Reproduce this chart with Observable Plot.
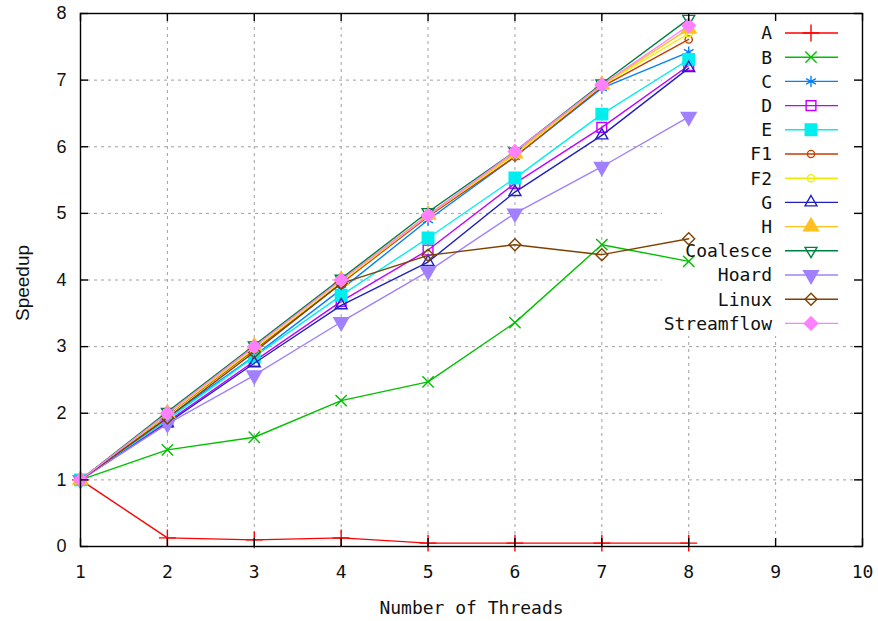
<!DOCTYPE html>
<html><head><meta charset="utf-8">
<script src="https://cdn.jsdelivr.net/npm/d3@7"></script>
<script src="https://cdn.jsdelivr.net/npm/@observablehq/plot@0.6"></script>
<style>body{margin:0;background:#fff}</style>
</head><body><div id="chart"></div>
<script>
// ---- data ----
const threads = [1, 2, 3, 4, 5, 6, 7, 8];
const seriesNames = ["A","B","C","D","E","F1","F2","G","H","Coalesce","Hoard","Linux","Streamflow"];
const A          = [1, 0.13, 0.10, 0.13, 0.05, 0.05, 0.05, 0.05];
const B          = [1, 1.45, 1.64, 2.19, 2.47, 3.36, 4.53, 4.28];
const C          = [1, 1.93, 2.86, 3.86, 4.90, 5.85, 6.88, 7.42];
const D          = [1, 1.87, 2.78, 3.68, 4.45, 5.45, 6.29, 7.22];
const E          = [1, 1.90, 2.85, 3.77, 4.63, 5.53, 6.49, 7.31];
const F1         = [1, 1.97, 2.95, 3.95, 4.95, 5.85, 6.90, 7.61];
const F2         = [1, 1.98, 2.97, 3.97, 4.97, 5.88, 6.92, 7.70];
const G          = [1, 1.85, 2.75, 3.62, 4.27, 5.32, 6.17, 7.18];
const H          = [1, 2.00, 3.00, 4.00, 4.98, 5.90, 6.93, 7.77];
const Coalesce   = [1, 2.02, 3.02, 4.02, 5.02, 5.93, 6.95, 7.92];
const Hoard      = [1, 1.84, 2.57, 3.37, 4.13, 5.00, 5.70, 6.45];
const Linux      = [1, 1.93, 2.92, 3.95, 4.37, 4.53, 4.38, 4.62];
const Streamflow = [1, 2.00, 3.00, 4.00, 4.97, 5.93, 6.93, 7.82];
const xTicks = [1, 2, 3, 4, 5, 6, 7, 8, 9, 10];
const yTicks = [0, 1, 2, 3, 4, 5, 6, 7, 8];
const xLabel = "Number of Threads";
const yLabel = "Speedup";

const valuesByName = {A, B, C, D, E, F1, F2, G, H, Coalesce, Hoard, Linux, Streamflow};

// ---- styles ----
const triDown2 = {draw(ctx, size){ const s=Math.sqrt(size)*0.6824, t=s/2, u=s*Math.sqrt(3)/2; ctx.moveTo(0,s); ctx.lineTo(u,-t); ctx.lineTo(-u,-t); ctx.closePath(); }};
const triDown  = {draw(ctx, size){ const y=-Math.sqrt(size/(Math.sqrt(3)*3)); ctx.moveTo(0,-y*2); ctx.lineTo(-Math.sqrt(3)*y,y); ctx.lineTo(Math.sqrt(3)*y,y); ctx.closePath(); }};
const styles = {
  A:          {color:"#ff0000", symbol:d3.symbolPlus,      filled:false, r:5.5},
  B:          {color:"#00c000", symbol:d3.symbolTimes,     filled:false, r:5.2},
  C:          {color:"#0080ff", symbol:d3.symbolAsterisk,  filled:false, r:5.3},
  D:          {color:"#c000ff", symbol:d3.symbolSquare2,   filled:false, r:6.2},
  E:          {color:"#00eeee", symbol:d3.symbolSquare,    filled:true,  r:6.5},
  F1:         {color:"#c04000", symbol:d3.symbolCircle,    filled:false, r:3.6},
  F2:         {color:"#eeee00", symbol:d3.symbolCircle,    filled:false, r:3.6},
  G:          {color:"#2020c0", symbol:d3.symbolTriangle2, filled:false, r:5.7},
  H:          {color:"#ffc020", symbol:d3.symbolTriangle,  filled:true,  r:5.5},
  Coalesce:   {color:"#008040", symbol:triDown2,           filled:false, r:5.7},
  Hoard:      {color:"#a080ff", symbol:triDown,            filled:true,  r:5.5},
  Linux:      {color:"#804000", symbol:d3.symbolDiamond2,  filled:false, r:5.4},
  Streamflow: {color:"#ff80ff", symbol:d3.symbolDiamond2,  filled:true,  r:6.0}
};

// ---- layout ----
const W = 878, Ht = 621, mL = 80, mR = 16, mT = 13, mB = 75;
const plotW = W - mL - mR, plotH = Ht - mT - mB;
const tickLen = 8;
const monoFont = "'DejaVu Sans Mono', monospace";
const sansFont = "'Liberation Sans', Arial, sans-serif";
const legend = {left: 662, textRight: 772, lineX1: 785, lineX2: 838, markX: 811, top: 33, step: 24.2, bottom: 336};

const table = seriesNames.flatMap(name => threads.map((t, i) => ({series: name, threads: t, speedup: valuesByName[name][i]})));

const marks = [];
marks.push(Plot.gridX(xTicks.slice(1, -1), {stroke: "#a0a0a0", strokeOpacity: 1, strokeDasharray: "3,4"}));
marks.push(Plot.gridY(yTicks.slice(1, -1), {stroke: "#a0a0a0", strokeOpacity: 1, strokeDasharray: "3,4"}));
// legend background (covers grid)
marks.push(() => {
  const r = d3.create("svg:rect")
    .attr("x", legend.left).attr("y", mT + 1)
    .attr("width", W - mR - legend.left - 1).attr("height", legend.bottom - mT - 1)
    .attr("fill", "#fff");
  return r.node();
});
for (const name of seriesNames) {
  const st = styles[name];
  const data = table.filter(d => d.series === name);
  marks.push(Plot.line(data, {x: "threads", y: "speedup", stroke: st.color, strokeWidth: 1.4}));
  marks.push(Plot.dot(data, {x: "threads", y: "speedup", symbol: st.symbol, r: st.r,
    stroke: st.color, strokeWidth: 1.4, fill: st.filled ? st.color : "none"}));
}
marks.push(Plot.frame({stroke: "#000", strokeWidth: 1.4}));
marks.push(Plot.ruleX(xTicks, {x: d => d, insetTop: plotH - tickLen, stroke: "#000", strokeWidth: 1.4}));
marks.push(Plot.ruleX(xTicks, {x: d => d, insetBottom: plotH - tickLen, stroke: "#000", strokeWidth: 1.4}));
marks.push(Plot.ruleY(yTicks, {y: d => d, insetRight: plotW - tickLen, stroke: "#000", strokeWidth: 1.4}));
marks.push(Plot.ruleY(yTicks, {y: d => d, insetLeft: plotW - tickLen, stroke: "#000", strokeWidth: 1.4}));
marks.push(Plot.axisX(xTicks, {tickSize: 0, tickPadding: 19, fontSize: 18, fontFamily: monoFont, label: null, fill: "#111", tickFormat: d => String(d)}));
marks.push(Plot.axisY(yTicks, {tickSize: 0, tickPadding: 14, fontSize: 18, fontFamily: sansFont, label: null, fill: "#111", tickFormat: d => String(d)}));
marks.push(Plot.text([xLabel], {text: d => d, frameAnchor: "bottom", textAnchor: "middle", lineAnchor: "middle", dy: 62, fontSize: 18, fontFamily: monoFont, fill: "#111"}));
marks.push(Plot.text([yLabel], {text: d => d, frameAnchor: "left", textAnchor: "middle", lineAnchor: "middle", dx: -58, dy: 3, rotate: -90, fontSize: 19, fontFamily: sansFont, fill: "#111"}));
// legend entries
marks.push(() => {
  const g = d3.create("svg:g");
  seriesNames.forEach((name, i) => {
    const st = styles[name];
    const y = legend.top + i * legend.step;
    g.append("text").attr("x", legend.textRight).attr("y", y).attr("dy", "0.36em")
      .attr("text-anchor", "end").attr("font-family", monoFont).attr("font-size", 18)
      .attr("fill", "#111").text(name);
    g.append("line").attr("x1", legend.lineX1).attr("x2", legend.lineX2).attr("y1", y).attr("y2", y)
      .attr("stroke", st.color).attr("stroke-width", 1.4);
    g.append("path").attr("transform", `translate(${legend.markX},${y})`)
      .attr("d", d3.symbol(st.symbol, Math.PI * st.r * st.r)())
      .attr("stroke", st.color).attr("stroke-width", 1.4)
      .attr("fill", st.filled ? st.color : "none");
  });
  return g.node();
});

const chart = Plot.plot({
  width: W, height: Ht,
  marginLeft: mL, marginRight: mR, marginTop: mT, marginBottom: mB,
  x: {domain: [1, 10]},
  y: {domain: [0, 8]},
  style: {background: "#fff", overflow: "visible"},
  marks
});
document.getElementById("chart").appendChild(chart);
</script>
</body></html>
